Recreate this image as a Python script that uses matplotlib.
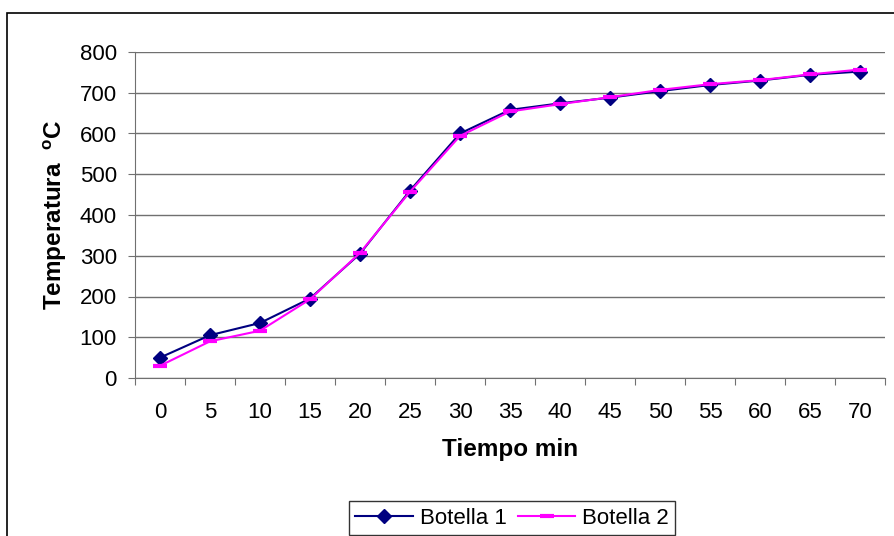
import matplotlib.pyplot as plt
from matplotlib.patches import Rectangle

plt.rcParams['font.family'] = ['Liberation Sans', 'DejaVu Sans']
plt.rcParams['mathtext.fontset'] = 'custom'
plt.rcParams['mathtext.bf'] = 'Liberation Sans:bold'

# Temperatura medida cada 5 minutos en las dos botellas
tiempo = [0, 5, 10, 15, 20, 25, 30, 35, 40, 45, 50, 55, 60, 65, 70]
botella_1 = [50, 105, 135, 195, 305, 460, 600, 658, 674, 688, 704, 719, 730, 744, 752]
botella_2 = [30, 90, 116, 193, 307, 457, 594, 654, 672, 689, 707, 721, 731, 745, 757]
y_ticks = [0, 100, 200, 300, 400, 500, 600, 700, 800]

fig = plt.figure(figsize=(8.94, 5.36), dpi=100)
ax = fig.add_axes([135 / 894, 1 - 378 / 536, 750 / 894, 326 / 536])

pos = list(range(len(tiempo)))
ax.plot(pos, botella_1, color='#000080', lw=1.5, marker='D', ms=7.5,
        label='Botella 1', zorder=3)
ax.plot(pos, botella_2, color='#ff00ff', lw=1.5, marker='_', ms=10, mew=3,
        label='Botella 2', zorder=4)

ax.set_xlim(-0.5, len(tiempo) - 0.5)
ax.set_ylim(0, 800)
ax.set_yticks(y_ticks)
ax.grid(axis='y', color='#707070', lw=1)
ax.set_axisbelow(True)

# ticks between categories, labels centred on each category
ax.set_xticks([p - 0.5 for p in pos] + [len(tiempo) - 0.5])
ax.set_xticklabels([])
ax.set_xticks(pos, minor=True)
ax.set_xticklabels([str(t) for t in tiempo], minor=True)
ax.tick_params(axis='x', which='major', direction='out', length=5, color='#707070')
ax.tick_params(axis='x', which='minor', length=0, pad=17, labelsize=16)
ax.tick_params(axis='y', direction='out', length=5, pad=8, labelsize=16, color='#707070')

for side in ['top', 'right']:
    ax.spines[side].set_visible(False)
ax.spines['left'].set_color('#707070')
ax.spines['bottom'].set_color('#707070')

ax.set_xlabel('Tiempo min', fontsize=17.5, fontweight='bold', labelpad=11)
ax.set_ylabel(r'Temperatura  $\mathbf{^o}$C', fontsize=17.5, fontweight='bold', labelpad=8)

leg = fig.legend(loc='upper center', bbox_to_anchor=(512 / 894, 1 - 490 / 536),
                 ncol=2, fontsize=16, frameon=True, fancybox=False,
                 edgecolor='black', handlelength=2.6, handletextpad=0.3,
                 columnspacing=0.5, borderpad=0.3)
leg.get_frame().set_linewidth(1)

fig.patches.append(Rectangle((7 / 894, -0.05), 1.0, 1 - 13 / 536 + 0.05,
                             transform=fig.transFigure, fill=False,
                             edgecolor='black', lw=1.2))

fig.savefig('out.png', dpi=100)
